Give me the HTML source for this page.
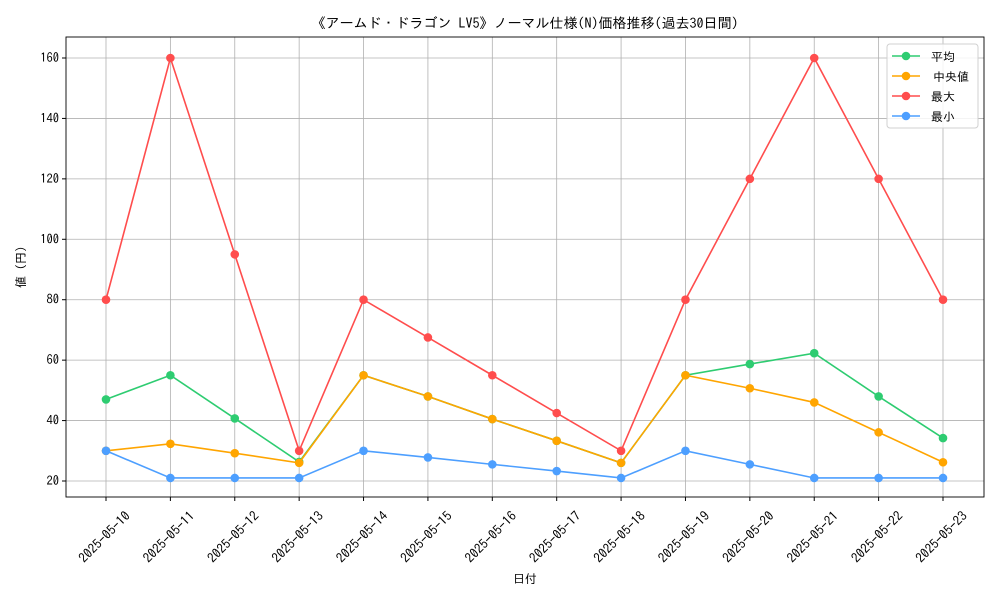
<!DOCTYPE html>
<html><head><meta charset="utf-8">
<style>
html,body{margin:0;padding:0;background:#fff;}
svg{display:block;font-family:"IPAGothic","Noto Sans CJK JP",sans-serif;}
</style></head>
<body>
<svg id="chart" width="1000" height="600"></svg>
<script>
const categories=["2025-05-10","2025-05-11","2025-05-12","2025-05-13","2025-05-14","2025-05-15","2025-05-16","2025-05-17","2025-05-18","2025-05-19","2025-05-20","2025-05-21","2025-05-22","2025-05-23"];
const avgValues=[47,55,40.7,26.3,55,48,40.5,33.3,26,55,58.7,62.3,48,34.2];
const medianValues=[30,32.3,29.2,26,55,48,40.5,33.3,26,55,50.7,46,36.1,26.2];
const maxValues=[80,160,95,30,80,67.5,55,42.5,30,80,120,160,120,80];
const minValues=[30,21,21,21,30,27.8,25.5,23.3,21,30,25.5,21,21,21];
const yTicks=[20,40,60,80,100,120,140,160];
const seriesNames=["平均","中央値","最大","最小"];
const seriesColors=["#2ecc71","#ffa500","#ff4d4d","#4d9fff"];
const seriesSlugs=["avg","median","max","min"];

const NS="http://www.w3.org/2000/svg";
const svg=document.getElementById('chart');
const L=66,R=984,T=37,B=497;
function xs(i){return 106+i*(943-106)/(categories.length-1);}
function ys(v){return 481-(v-20)*(481-58)/140;}
function mk(tag,attrs,parent){const e=document.createElementNS(NS,tag);for(const k in attrs)e.setAttribute(k,attrs[k]);(parent||svg).appendChild(e);return e;}

categories.forEach((c,i)=>{const l=mk('line',{x1:xs(i),x2:xs(i),y1:T,y2:B,stroke:'#b0b0b0','stroke-width':0.8});

});
yTicks.forEach(v=>{const l=mk('line',{x1:L,x2:R,y1:ys(v),y2:ys(v),stroke:'#b0b0b0','stroke-width':0.8});

});

const allSeries=[avgValues,medianValues,maxValues,minValues];
allSeries.forEach((vals,s)=>{
  const g=mk('g',{});
  
  
  mk('polyline',{points:vals.map((v,i)=>xs(i)+','+ys(v)).join(' '),fill:'none',stroke:seriesColors[s],'stroke-width':1.6},g);
  vals.forEach((v,i)=>{const c=mk('circle',{cx:xs(i),cy:ys(v),r:4.3,fill:seriesColors[s]},g);
  
  });
});

const fr=mk('rect',{x:L,y:T,width:R-L,height:B-T,fill:'none',stroke:'#000','stroke-width':0.9});



yTicks.forEach(v=>{
  mk('line',{x1:L-4,x2:L,y1:ys(v),y2:ys(v),stroke:'#000'});
  const t=mk('text',{x:L-7,y:ys(v)+4,'text-anchor':'end','font-size':12.5,fill:'#000'});t.textContent=v;
  
  
});
categories.forEach((c,i)=>{
  mk('line',{x1:xs(i),x2:xs(i),y1:B,y2:B+4,stroke:'#000'});
  const cx=xs(i)-1.5,cy=537;
  const t=mk('text',{x:cx,y:cy+4.5,'text-anchor':'middle','font-size':13.2,fill:'#000',transform:`rotate(-45 ${cx} ${cy})`});t.textContent=c;
  
  
});

const title=mk('text',{x:525,y:28,'text-anchor':'middle','font-size':14,fill:'#000'});title.textContent='《アームド・ドラゴン LV5》ノーマル仕様(N)価格推移(過去30日間)';


const xt=mk('text',{x:525,y:583,'text-anchor':'middle','font-size':12,fill:'#000'});xt.textContent='日付';


const yt=mk('text',{x:25,y:267,'text-anchor':'middle','font-size':12,fill:'#000',transform:'rotate(-90 25 267)'});yt.textContent='値 (円)';



const lg=mk('g',{});


mk('rect',{x:887,y:44,width:91,height:84,rx:3,fill:'#fff','fill-opacity':0.85,stroke:'#d0d0d0'},lg);
seriesNames.forEach((n,s)=>{
  const y=56+s*20;
  const e=mk('g',{},lg);
  
  
  mk('line',{x1:892,x2:920,y1:y,y2:y,stroke:seriesColors[s],'stroke-width':1.6},e);
  mk('circle',{cx:906,cy:y,r:4.3,fill:seriesColors[s]},e);
  const t=mk('text',{x:s==1?933:931,y:y+5,'font-size':12,fill:'#000'},e);t.textContent=n;
});
</script>
</body></html>
